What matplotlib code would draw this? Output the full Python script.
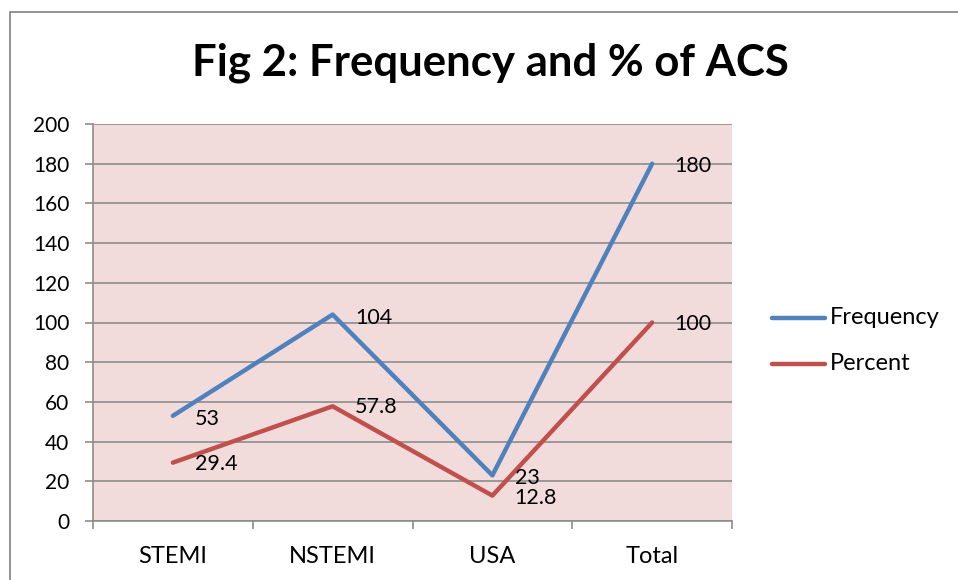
import matplotlib.pyplot as plt
from matplotlib.patches import Rectangle
from matplotlib.lines import Line2D

categories = ['STEMI', 'NSTEMI', 'USA', 'Total']
frequency = [53, 104, 23, 180]
percent = [29.4, 57.8, 12.8, 100]
yticks = [0, 20, 40, 60, 80, 100, 120, 140, 160, 180, 200]

blue = '#4F81BD'
red = '#C0504D'
grid_col = '#8C8C8C'

plt.rcParams['font.family'] = ['Lato', 'DejaVu Sans']

W, H = 958, 580
fig = plt.figure(figsize=(W / 100, H / 100), dpi=100)

# chart border (runs off right/bottom edge)
fig.patches.append(Rectangle((10 / W, -0.1), 1.2, (H - 12) / H + 0.1,
                             transform=fig.transFigure, fill=False,
                             edgecolor='#808080', linewidth=1.2))

ax = fig.add_axes([93 / W, (H - 521) / H, 639 / W, 397 / H])
ax.set_facecolor('#F2DCDB')

x = list(range(len(categories)))
ax.plot(x, frequency, color=blue, linewidth=3.2, solid_capstyle='round')
ax.plot(x, percent, color=red, linewidth=3.2, solid_capstyle='round')

ax.set_xlim(-0.5, len(categories) - 0.5)
ax.set_ylim(0, 200)
ax.set_yticks(yticks)
ax.set_yticklabels([str(v) for v in yticks], fontsize=15)
ax.yaxis.grid(True, color=grid_col, linewidth=1.2)
ax.set_axisbelow(True)

# category ticks sit on boundaries
ax.set_xticks([i - 0.5 for i in range(len(categories) + 1)])
ax.set_xticklabels([])
ax.set_xticks(x, minor=True)
ax.set_xticklabels(categories, minor=True, fontsize=17)
ax.tick_params(axis='x', which='minor', length=0, pad=18)
ax.tick_params(axis='x', which='major', length=6, color=grid_col, width=1.2)
ax.tick_params(axis='y', length=6, color=grid_col, width=1.2, pad=11)

for s in ['top', 'right']:
    ax.spines[s].set_visible(False)
for s in ['left', 'bottom']:
    ax.spines[s].set_color(grid_col)
    ax.spines[s].set_linewidth(1.2)

# data labels (offsets in px)
freq_off = [-3, -3, -3, -2]
pct_off = [-1, -1, -2, -2]
for i, v in enumerate(frequency):
    ax.annotate(str(v), (i, v), xytext=(16, freq_off[i] * 0.72), textcoords='offset points',
                va='center', ha='left', fontsize=15.5)
for i, v in enumerate(percent):
    ax.annotate(f'{v:g}', (i, v), xytext=(16, pct_off[i] * 0.72), textcoords='offset points',
                va='center', ha='left', fontsize=15.5)

fig.text(490 / W, 1 - 63 / H, 'Fig 2: Frequency and % of ACS', ha='center', va='center',
         fontsize=31.5, fontweight='bold')

# legend
for yy, col, lab in [(318, blue, 'Frequency'), (364, red, 'Percent')]:
    fig.lines.append(Line2D([772 / W, 825 / W], [1 - yy / H, 1 - yy / H],
                            transform=fig.transFigure, color=col, linewidth=3.2,
                            solid_capstyle='round'))
    fig.text(830 / W, 1 - yy / H, lab, ha='left', va='center', fontsize=17)

fig.savefig('out.png', dpi=100)
